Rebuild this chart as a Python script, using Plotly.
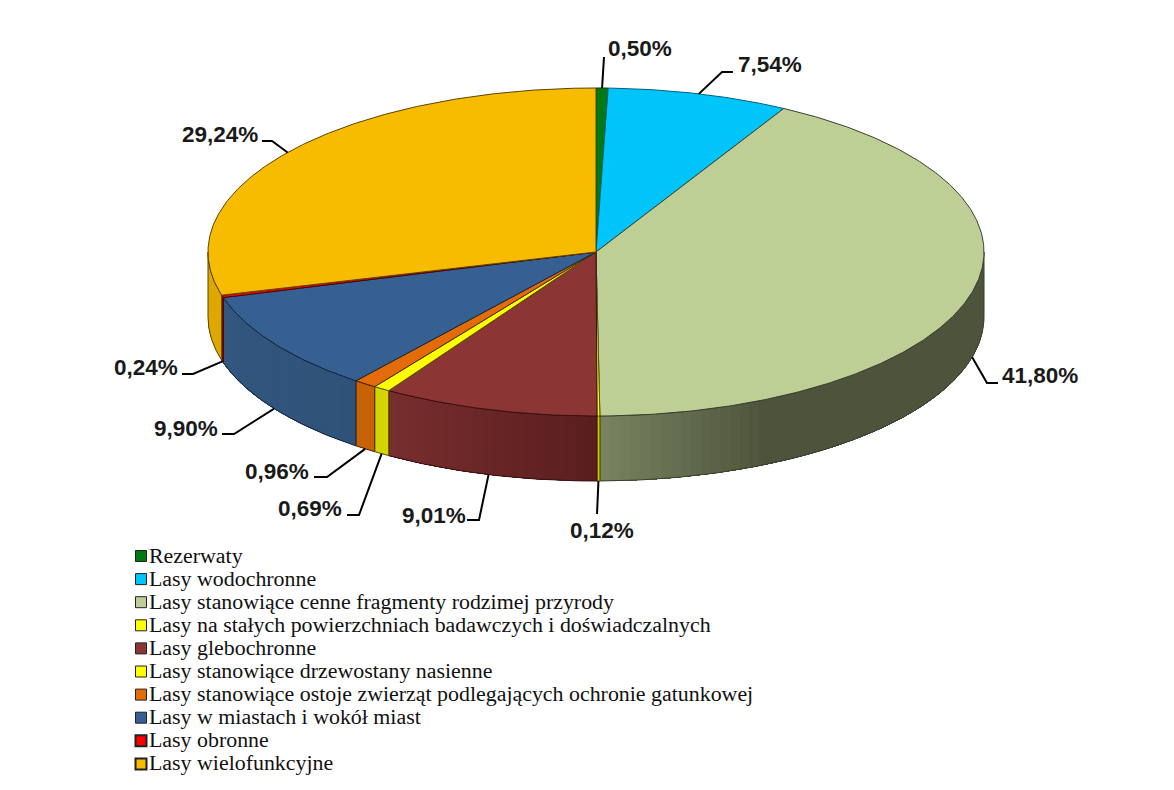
import math
import plotly.graph_objects as go

categories = [
    "Rezerwaty",
    "Lasy wodochronne",
    "Lasy stanowiące cenne fragmenty rodzimej przyrody",
    "Lasy na stałych powierzchniach badawczych i doświadczalnych",
    "Lasy glebochronne",
    "Lasy stanowiące drzewostany nasienne",
    "Lasy stanowiące ostoje zwierząt podlegających ochronie gatunkowej",
    "Lasy w miastach i wokół miast",
    "Lasy obronne",
    "Lasy wielofunkcyjne",
]
shares = [0.50, 7.54, 41.80, 0.12, 9.01, 0.69, 0.96, 9.90, 0.24, 29.24]

top_colors = ["#007A14", "#00C5FA", "#BECF96", "#FFFF00", "#8B3535",
              "#FFFF00", "#E36C09", "#366092", "#FF0000", "#F7BB00"]
# side wall colours at the right and left end of each slice
wall_right = [(0, 90, 20), (0, 150, 190), (78, 84, 60), (210, 210, 0), (90, 30, 31),
              (212, 212, 0), (200, 98, 6), (47, 82, 120), (150, 0, 0), (222, 168, 0)]
wall_left = [(0, 90, 20), (0, 150, 190), (120, 131, 96), (210, 210, 0), (120, 46, 46),
             (212, 212, 0), (200, 98, 6), (50, 87, 128), (150, 0, 0), (222, 168, 0)]
edge_colors = ["#003A10", "#006080", "#3A4030", "#555500", "#3A1010",
               "#555500", "#4A2500", "#14263C", "#500000", "#5A4400"]
legend_edge_widths = [1, 1, 1, 1, 1, 1, 1, 1, 2, 2]

# leader elbow / tail and label anchor for each slice
# (elbow_x, elbow_y, tail_x, tail_y, text_x, text_y, anchor)
label_layout = [
    (604, 57, 604, 57, 606, 48, "left"),
    (722, 72, 733, 72, 736, 64, "left"),
    (987, 383, 998, 383, 1000, 375, "left"),
    (597, 514, 597, 514, 602, 530, "center"),
    (479, 520, 467, 520, 468, 515, "right"),
    (359, 515, 347, 515, 344, 508, "right"),
    (327, 477, 314, 477, 311, 471, "right"),
    (234, 434, 222, 434, 220, 428, "right"),
    (193, 374, 182, 374, 180, 367, "right"),
    (272, 141, 262, 141, 260, 134, "right"),
]

CX, CY, RX, RY, DEPTH = 596, 252, 388, 164, 65
W, H = 1174, 790
PAGE_MARGIN = 8  # browser default body margin around the plot div


def rim(t_deg, drop=0):
    t = math.radians(t_deg)
    return CX + RX * math.sin(t), CY - RY * math.cos(t) + drop


def arc(t0, t1, drop=0, step=1.0):
    n = max(2, int(abs(t1 - t0) / step) + 1)
    pts = [rim(t0 + (t1 - t0) * i / (n - 1), drop) for i in range(n)]
    return [p[0] for p in pts], [p[1] for p in pts]


def mix(c0, c1, f):
    return "rgb(%d,%d,%d)" % tuple(round(a + (b - a) * f) for a, b in zip(c0, c1))


fig = go.Figure()

angles = []
total = 0
for s in shares:
    angles.append((total * 3.6, (total + s) * 3.6))
    total += s

# side walls, only the front half of the disc shows
for i, (a0, a1) in enumerate(angles):
    lo, hi = max(a0, 90), min(a1, 270)
    if hi <= lo:
        continue
    strips = max(1, int((hi - lo) / 1.5))
    for k in range(strips):
        # each strip runs on to the slice end, the next one paints over it, so no seams
        s0 = lo + (hi - lo) * k / strips
        f = (k + 0.5) / strips
        if i == 2:  # green stays flat on the right, the gradient is only near the front
            f = max(0, (f - 0.72) / 0.28)
        color = mix(wall_right[i], wall_left[i], f)
        xt, yt = arc(s0, hi, 0, 0.5)
        xb, yb = arc(hi, s0, DEPTH, 0.5)
        fig.add_trace(go.Scatter(x=xt + xb, y=yt + yb, mode="none", fill="toself",
                                 fillcolor=color, hoverinfo="skip"))
    xt, yt = arc(lo, hi, 0, 0.5)
    xb, yb = arc(hi, lo, DEPTH, 0.5)
    fig.add_trace(go.Scatter(x=xt + xb + xt[:1], y=yt + yb + yt[:1], mode="lines",
                             line=dict(color=edge_colors[i], width=1), hoverinfo="skip"))

# top faces
for i, (a0, a1) in enumerate(angles):
    xa, ya = arc(a0, a1, 0, 0.5)
    fig.add_trace(go.Scatter(x=[CX] + xa + [CX], y=[CY] + ya + [CY], mode="lines", fill="toself",
                             fillcolor=top_colors[i], line=dict(color=edge_colors[i], width=1),
                             name=categories[i], hoverinfo="name"))

# leader lines and percent labels
annotations = []
for i, (a0, a1) in enumerate(angles):
    mid = (a0 + a1) / 2
    drop = DEPTH if 90 < mid < 270 else 0
    sx, sy = rim(mid, drop)
    ex, ey, tx, ty, lx, ly, anchor = label_layout[i]
    fig.add_trace(go.Scatter(x=[sx, ex, tx], y=[sy, ey, ty], mode="lines",
                             line=dict(color="#000000", width=2), hoverinfo="skip"))
    annotations.append(dict(x=lx, y=ly, text="<b>%s%%</b>" % f"{shares[i]:.2f}".replace(".", ","),
                            xanchor=anchor, yanchor="middle", showarrow=False,
                            font=dict(family="Liberation Sans", size=22.5, color="#1a1a1a")))

# legend, bottom left
legend_y = [556 + 23.1 * i for i in range(len(categories))]
fig.add_trace(go.Scatter(x=[141] * len(categories), y=legend_y, mode="markers",
                         marker=dict(symbol="square", size=11, color=top_colors,
                                     line=dict(color="#222222", width=legend_edge_widths)),
                         hoverinfo="skip"))
for name, y in zip(categories, legend_y):
    annotations.append(dict(x=147, y=y - 1, text=name, xanchor="left", yanchor="middle", showarrow=False,
                            font=dict(family="Liberation Serif", size=21.9, color="#111111")))

fig.update_layout(
    width=W - 2 * PAGE_MARGIN,
    height=H - 2 * PAGE_MARGIN,
    margin=dict(t=0, b=0, l=0, r=0),
    paper_bgcolor="white",
    plot_bgcolor="white",
    showlegend=False,
    annotations=annotations,
    xaxis=dict(range=[PAGE_MARGIN, W - PAGE_MARGIN], visible=False),
    yaxis=dict(range=[H - PAGE_MARGIN, PAGE_MARGIN], visible=False),
)

fig.write_html("out.html")
